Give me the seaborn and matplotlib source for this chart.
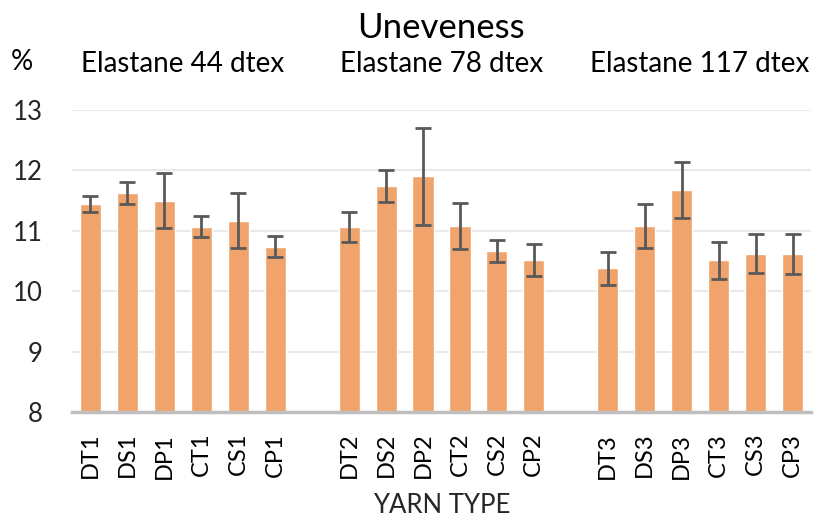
import pandas as pd
import matplotlib
matplotlib.use('Agg')
import matplotlib.pyplot as plt
import seaborn as sns

# yarn types per elastane group
groups = ['Elastane 44 dtex', 'Elastane 78 dtex', 'Elastane 117 dtex']
yarn_1 = ['DT1', 'DS1', 'DP1', 'CT1', 'CS1', 'CP1']
yarn_2 = ['DT2', 'DS2', 'DP2', 'CT2', 'CS2', 'CP2']
yarn_3 = ['DT3', 'DS3', 'DP3', 'CT3', 'CS3', 'CP3']

# unevenness (%) and error
vals_1 = [11.44, 11.63, 11.50, 11.07, 11.17, 10.74]
vals_2 = [11.06, 11.74, 11.90, 11.08, 10.66, 10.52]
vals_3 = [10.38, 11.08, 11.68, 10.51, 10.62, 10.62]
err_1 = [0.13, 0.18, 0.46, 0.18, 0.45, 0.17]
err_2 = [0.25, 0.27, 0.81, 0.38, 0.18, 0.26]
err_3 = [0.27, 0.36, 0.46, 0.31, 0.32, 0.33]

df = pd.DataFrame({
    'yarn': yarn_1 + yarn_2 + yarn_3,
    'value': vals_1 + vals_2 + vals_3,
    'err': err_1 + err_2 + err_3,
})

# blank slot between groups
order = yarn_1 + ['_g1'] + yarn_2 + ['_g2'] + yarn_3

sns.set_theme(style='white')
plt.rcParams['font.family'] = ['Lato', 'DejaVu Sans']

fig = plt.figure(figsize=(8.22, 5.24), dpi=100)
ax = fig.add_axes([0.0876, 0.2137, 0.899, 0.5763])

sns.barplot(data=df, x='yarn', y='value', order=order, color='#F0A46C',
            width=0.57, errorbar=None, saturation=1, ax=ax, zorder=2)

xpos = [order.index(y) for y in df['yarn']]
ax.errorbar(xpos, df['value'], yerr=df['err'], fmt='none', ecolor='#595959',
            elinewidth=2, capsize=5.5, capthick=2, zorder=3)

ax.set_ylim(8, 13)
ax.set_xlim(-0.5, len(order) - 0.5)
ax.set_yticks(range(8, 14))
ax.yaxis.grid(True, color='#e9e9e9', linewidth=1.5, zorder=0)
ax.set_axisbelow(True)
for s in ['top', 'right', 'left']:
    ax.spines[s].set_visible(False)
ax.spines['bottom'].set_color('#bfbfbf')
ax.spines['bottom'].set_linewidth(2.5)
ax.spines['bottom'].set_zorder(4)

ax.set_xticks(range(len(order)))
ax.set_xticklabels(['' if o.startswith('_') else o for o in order],
                   rotation=90, fontsize=17, color='black')
ax.tick_params(axis='y', labelsize=18.5, colors='#262626', length=0, pad=21)
ax.tick_params(axis='x', length=0, pad=15)
ax.set_ylabel('')
ax.set_xlabel('YARN TYPE', fontsize=18.5, color='#262626', labelpad=10)

# group labels above each block of bars
for i, g in enumerate(groups):
    ax.text(2.5 + 7 * i, 1.126, g, transform=ax.get_xaxis_transform(),
            ha='center', va='baseline', fontsize=20, color='black')
fig.text(0.027, 0.882, '%', fontsize=20, color='black', ha='center', va='center')
fig.text(0.537, 1 - 38 / 524, 'Uneveness', fontsize=25, color='black',
         ha='center', va='baseline')

fig.savefig('out.png', dpi=100)
